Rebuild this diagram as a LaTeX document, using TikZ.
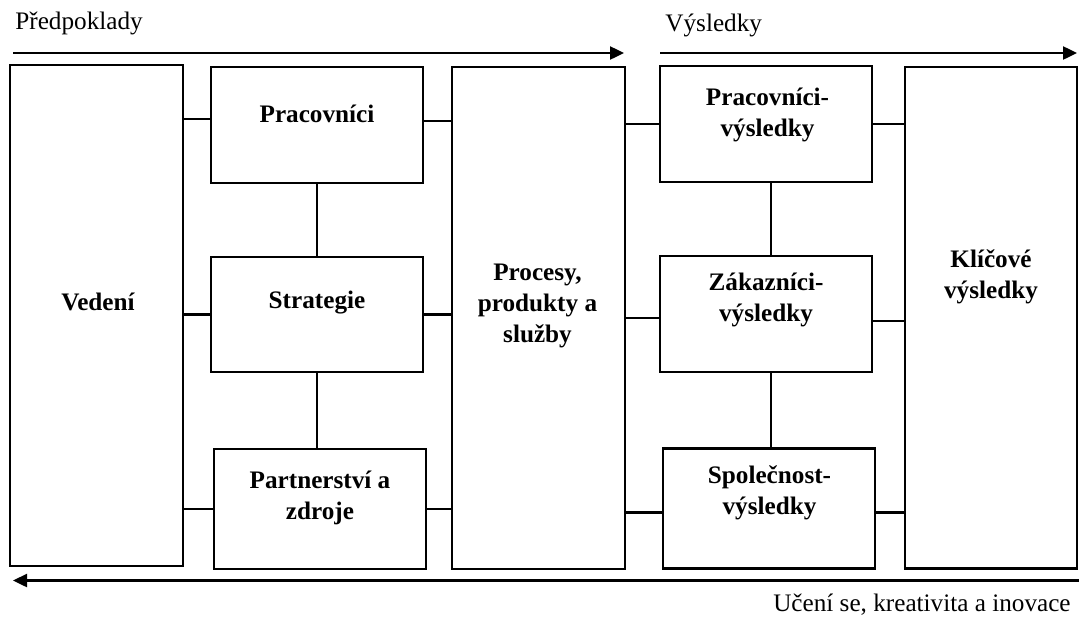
\documentclass[tikz,border=0pt]{standalone}
\usepackage{fontspec}
\setmainfont{Liberation Serif}
\usetikzlibrary{arrows.meta, positioning}

\begin{document}
\begin{tikzpicture}[x=0.5pt, y=-0.5pt,
    box/.style={draw, line width=1.2pt, inner sep=0pt},
    boxtext/.style={font=\fontsize{12.6}{15.5}\selectfont\bfseries, align=center},
    lbl/.style={font=\fontsize{12.6}{15.5}\selectfont, inner sep=0pt},
    link/.style={line width=1.2pt},
    flow/.style={line width=1.2pt, -{Triangle[length=7pt, width=6.5pt]}}]
            \useasboundingbox (0,0) rectangle (1079,616);

            % Enablers
            \node[box, minimum width=86.5pt, minimum height=250.5pt] (vedeni) at (96.5,315.5) {};
            \node[boxtext] (vedeniT) at (98,302) {Vedení};

            \node[box, minimum width=106pt, minimum height=58pt] (prac) at (317,125) {};
            \node[boxtext] (pracT) at (317,114) {Pracovníci};

            \node[box, minimum width=106pt, minimum height=57.5pt] (strat) at (317,314.5) {};
            \node[boxtext] (stratT) at (317,303) {Strategie};

            \node[box, minimum width=106pt, minimum height=60pt] (partner) at (320,509) {};
            \node[boxtext] (partnerT) at (320,498) {Partnerství a\\zdroje};

            \node[box, minimum width=86.5pt, minimum height=251pt] (procesy) at (538.5,318) {};
            \node[boxtext] (procesyT) at (537.5,306) {Procesy,\\produkty a\\služby};

            % Results
            \node[box, minimum width=106pt, minimum height=58pt] (pracv) at (766,124) {};
            \node[boxtext] (pracvT) at (767.5,115) {Pracovníci-\\výsledky};

            \node[box, minimum width=106pt, minimum height=58pt] (zak) at (766,314) {};
            \node[boxtext] (zakT) at (766,300) {Zákazníci-\\výsledky};

            \node[box, minimum width=106pt, minimum height=60pt] (spol) at (769,508.5) {};
            \node[boxtext] (spolT) at (769.5,492.5) {Společnost-\\výsledky};

            \node[box, minimum width=86pt, minimum height=250.75pt] (klic) at (991,317.75) {};
            \node[boxtext] (klicT) at (991,276.5) {Klíčové\\výsledky};

            % Links left side
            \draw[link] ([yshift=3pt]prac.west) -- ([yshift=3pt]prac.west -| vedeni.east);
            \draw[link] (strat.west) -- (strat.west -| vedeni.east);
            \draw[link] (partner.west) -- (partner.west -| vedeni.east);
            \draw[link] ([yshift=2pt]prac.east) -- ([yshift=2pt]prac.east -| procesy.west);
            \draw[link] (strat.east) -- (strat.east -| procesy.west);
            \draw[link] (partner.east) -- (partner.east -| procesy.west);
            \draw[link] (prac.south) -- (strat.north);
            \draw[link] (strat.south) -- (strat.south |- partner.north);

            % Links right side
            \draw[link] (pracv.west) -- (pracv.west -| procesy.east);
            \draw[link] ([yshift=-2pt]zak.west) -- ([yshift=-2pt]zak.west -| procesy.east);
            \draw[link] ([yshift=-2pt]spol.west) -- ([yshift=-2pt]spol.west -| procesy.east);
            \draw[link] (pracv.east) -- (pracv.east -| klic.west);
            \draw[link] ([yshift=-3.5pt]zak.east) -- ([yshift=-3.5pt]zak.east -| klic.west);
            \draw[link] ([yshift=-2pt]spol.east) -- ([yshift=-2pt]spol.east -| klic.west);
            \draw[link] ([xshift=2.5pt]pracv.south) -- ([xshift=2.5pt]zak.north);
            \draw[link] ([xshift=2.5pt]zak.south) -- ([xshift=2.5pt]zak.south |- spol.north);

            % Flow arrows
            \coordinate (inStart) at (13,53);
            \coordinate (inEnd) at (624,53);
            \coordinate (outStart) at (660,53);
            \coordinate (outEnd) at (1077,53);
            \coordinate (learnStart) at (1079,580.5);
            \coordinate (learnEnd) at (13,580.5);
            \draw[flow] (inStart) -- (inEnd);
            \draw[flow] (outStart) -- (outEnd);
            \draw[flow] (learnStart) -- (learnEnd);

            \node[lbl, anchor=base west] (predT) at (15,29) {Předpoklady};
            \node[lbl, anchor=base west] (vysT) at (665,31) {Výsledky};
            \node[lbl, anchor=base east] (uceniT) at (1071,611) {Učení se, kreativita a inovace};
\end{tikzpicture}
\end{document}
